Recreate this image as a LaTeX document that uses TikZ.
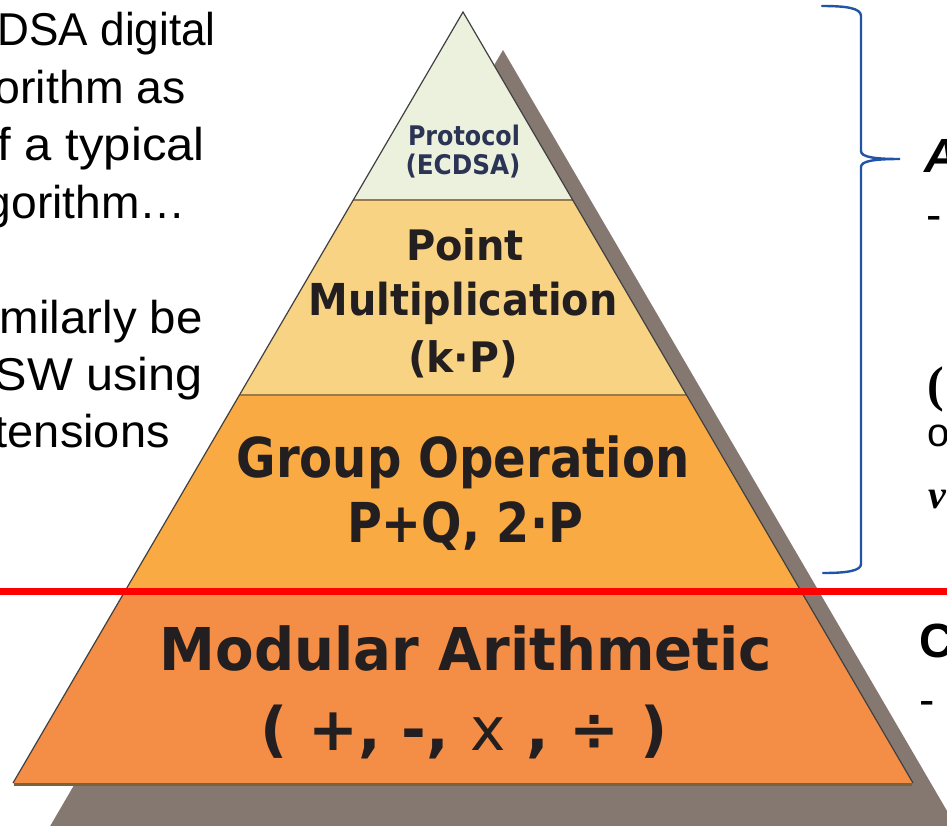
\documentclass[tikz,border=0pt]{standalone}
\usepackage{fontspec}
\usepackage{graphicx}
\setmainfont{Liberation Sans}
\newfontfamily\pyr{DejaVu Sans}[FakeStretch=0.88]
\newfontfamily\serifface{Liberation Serif}

% stretch a line of text to a given width, keeping its height
\newcommand\fitto[2]{\resizebox{#1}{\height}{#2}}

\definecolor{tierA}{HTML}{EBF1DD}
\definecolor{tierB}{HTML}{F8D384}
\definecolor{tierC}{HTML}{F9AA43}
\definecolor{tierD}{HTML}{F48D45}
\definecolor{shadowc}{HTML}{857870}
\definecolor{sepc}{HTML}{9A7A48}
\definecolor{bracec}{HTML}{2154A6}
\definecolor{inkc}{HTML}{231F20}
\definecolor{navyc}{HTML}{2B3455}

\begin{document}
\begin{tikzpicture}[x=1pt,y=-1pt,
  bodytext/.style={inner sep=0pt, anchor=base west, font=\fontsize{46}{57}\selectfont},
  sidetext/.style={inner sep=0pt, anchor=base west},
  tiertext/.style={inner sep=0pt, anchor=base, text=inkc},
  sepline/.style={draw=sepc, line width=2},
  slope/.style={draw=black!75, line width=1.2},
  bracepath/.style={draw=bracec, line width=2.4, line cap=round}
]
\useasboundingbox (0,0) rectangle (947,825);
\clip (0,0) rectangle (947,825);

% drop shadow behind the pyramid
\fill[shadowc] (503,50) -- (999,900) -- (7,900) -- cycle;

% the four tiers
\fill[tierA] (463,12) -- (572.73,200) -- (353.27,200) -- cycle;
\fill[tierB] (353.27,200) -- (572.73,200) -- (686.54,395) -- (239.46,395) -- cycle;
\fill[tierC] (239.46,395) -- (686.54,395) -- (800.94,591) -- (125.06,591) -- cycle;
\fill[tierD] (125.06,591) -- (800.94,591) -- (913,783) -- (13,783) -- cycle;

% tier borders and outline
\draw[sepline] (353.27,200) -- (572.73,200);
\draw[sepline] (239.46,395) -- (686.54,395);
\draw[draw=sepc!80!black, line width=3] (14,784.5) -- (912,784.5);
\draw[slope] (13,783) -- (463,12) -- (913,783);

% tier labels
\node[tiertext, text=navyc, font=\pyr\bfseries\fontsize{27}{30}\selectfont] (p1) at (464,145) {\fitto{112pt}{Protocol}};
\node[tiertext, text=navyc, font=\pyr\bfseries\fontsize{27}{30}\selectfont] (p2) at (463,174) {\fitto{115pt}{(ECDSA)}};
\node[tiertext, font=\pyr\bfseries\fontsize{42}{48}\selectfont] (m1) at (465,260) {\fitto{118pt}{Point}};
\node[tiertext, font=\pyr\bfseries\fontsize{44}{48}\selectfont] (m2) at (463,315) {\fitto{309pt}{Multiplication}};
\node[tiertext, font=\pyr\bfseries\fontsize{42}{48}\selectfont] (m3) at (463,372) {\fitto{110pt}{(k·P)}};
\node[tiertext, font=\pyr\bfseries\fontsize{55}{60}\selectfont] (g1) at (463,477) {\fitto{453pt}{Group Operation}};
\node[tiertext, font=\pyr\bfseries\fontsize{55}{60}\selectfont] (g2) at (465,542) {\fitto{236pt}{P+Q, 2·P}};
\node[tiertext, font=\pyr\bfseries\fontsize{59}{64}\selectfont] (a1) at (466,670) {\fitto{612pt}{Modular Arithmetic}};
\node[tiertext, font=\pyr\bfseries\fontsize{60}{64}\selectfont] (a2) at (464,750) {\fitto{407pt}{( +, -, {\mdseries x} , ÷ )}};

% separating rule
\draw[red, line width=7] (0,591) -- (947,591);

% curly brace spanning the upper tiers
\draw[bracepath] (822,6) .. controls (846,6) and (861,8) .. (861,16)
  -- (861,151) .. controls (861,157) and (874,159) .. (900,159)
  .. controls (874,159) and (861,161) .. (861,167)
  -- (861,564) .. controls (861,571) and (846,573) .. (823,573);

% running text on the left (runs in from beyond the left edge)
\node[bodytext] (t1) at (-2.5,45) {\fitto{218pt}{DSA digital}};
\node[bodytext] (t2) at (-5.5,103) {\fitto{191pt}{orithm as}};
\node[bodytext] (t3) at (-2.5,160) {\fitto{207pt}{f a typical}};
\node[bodytext] (t4) at (-14.5,218) {\fitto{200pt}{gorithm…}};
\node[bodytext] (t5) at (-0.5,333) {\fitto{203pt}{milarly be}};
\node[bodytext] (t6) at (-5.5,390) {\fitto{208pt}{SW using}};
\node[bodytext] (t7) at (-5.5,447) {\fitto{175pt}{tensions}};

% running text on the right
\node[sidetext, font=\bfseries\itshape\fontsize{48}{56}\selectfont] (r1) at (924,172) {A};
\node[sidetext, font=\fontsize{46}{56}\selectfont] (r2) at (926,230) {-};
\node[sidetext, font=\serifface\bfseries\fontsize{50}{56}\selectfont] (r3) at (927,401) {(};
\node[sidetext, font=\fontsize{40}{56}\selectfont] (r4) at (927,446) {o};
\node[sidetext, font=\serifface\bfseries\itshape\fontsize{40}{56}\selectfont] (r5) at (928,508) {v};
\node[sidetext, font=\bfseries\fontsize{48}{56}\selectfont] (r6) at (919,657) {C};
\node[sidetext, font=\fontsize{46}{56}\selectfont] (r7) at (919,715) {-};
\end{tikzpicture}
\end{document}
